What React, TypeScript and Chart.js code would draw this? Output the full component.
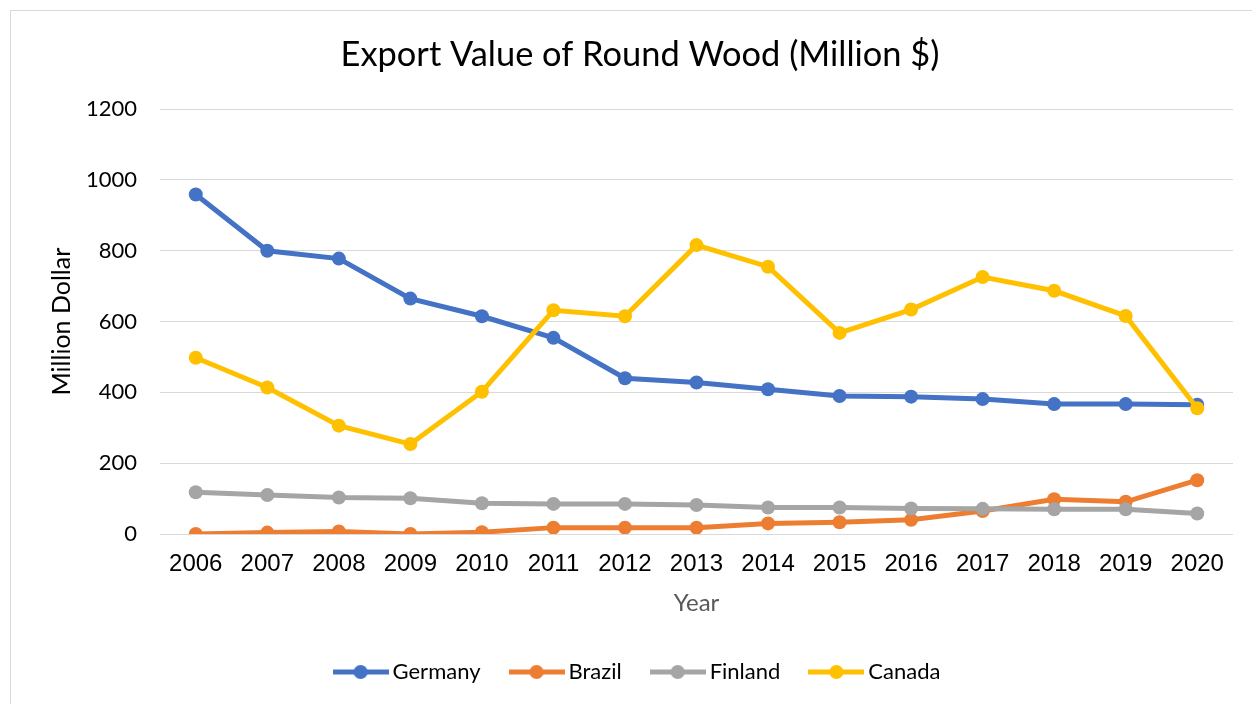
import React, { useEffect, useRef } from "react";
import { Chart, registerables } from "chart.js";

Chart.register(...registerables);

const years = ["2006", "2007", "2008", "2009", "2010", "2011", "2012", "2013", "2014", "2015", "2016", "2017", "2018", "2019", "2020"];
const germany = [959, 800, 778, 665, 615, 554, 440, 428, 409, 390, 388, 381, 367, 367, 365];
const brazil = [0, 4, 7, 0, 5, 18, 18, 18, 30, 33, 40, 65, 98, 91, 152];
const finland = [118, 110, 103, 101, 87, 85, 85, 82, 75, 75, 72, 71, 70, 70, 58];
const canada = [498, 414, 306, 254, 402, 632, 615, 816, 755, 568, 634, 726, 687, 616, 355];

const seriesNames = ["Germany", "Brazil", "Finland", "Canada"];
const seriesColors = ["#4472C4", "#ED7D31", "#A5A5A5", "#FFC000"];
const yTicks = [0, 200, 400, 600, 800, 1000, 1200];

const TITLE = "Export Value of Round Wood (Million $)";
const Y_TITLE = "Million Dollar";
const X_TITLE = "Year";

function makeIcon(color: string): HTMLCanvasElement {
  const c = document.createElement("canvas");
  c.width = 56;
  c.height = 16;
  const ctx = c.getContext("2d")!;
  ctx.strokeStyle = color;
  ctx.lineWidth = 5;
  ctx.beginPath();
  ctx.moveTo(0, 8);
  ctx.lineTo(56, 8);
  ctx.stroke();
  ctx.fillStyle = color;
  ctx.beginPath();
  ctx.arc(28, 8, 7, 0, Math.PI * 2);
  ctx.fill();
  return c;
}

export default function App() {
  const ref = useRef<HTMLCanvasElement | null>(null);

  useEffect(() => {
    if (!ref.current) return;
    const icons = seriesColors.map(makeIcon);
    const values = [germany, brazil, finland, canada];
    const orders = [3, 2, 1, 0];
    const chart = new Chart(ref.current, {
      type: "line",
      data: {
        labels: years,
        datasets: values.map((v, i) => ({
          label: seriesNames[i],
          data: v,
          borderColor: seriesColors[i],
          backgroundColor: seriesColors[i],
          pointBackgroundColor: seriesColors[i],
          pointBorderColor: seriesColors[i],
          pointBorderWidth: 0,
          pointRadius: 7,
          pointHoverRadius: 7,
          borderWidth: 5,
          tension: 0,
          fill: false,
          order: orders[i],
        })),
      },
      options: {
        responsive: false,
        animation: false,
        layout: { padding: { left: 36, right: 19, top: 0, bottom: 11 } },
        plugins: {
          title: {
            display: true,
            text: TITLE,
            color: "#000",
            font: { family: "Lato", size: 34.4, weight: "normal" },
            padding: { top: 23.4, bottom: 33.5 },
          },
          legend: {
            position: "bottom",
            labels: {
              usePointStyle: true,
              pointStyleWidth: 42,
              padding: 35,
              color: "#000",
              font: { family: "Lato", size: 22 },
              sort: (a: any, b: any) => a.datasetIndex - b.datasetIndex,
              generateLabels: (ch: any) => {
                const base = (Chart.defaults.plugins.legend.labels as any).generateLabels(ch);
                return base.map((l: any) => ({
                  ...l,
                  pointStyle: icons[l.datasetIndex],
                  fontColor: "#000",
                }));
              },
            },
          },
          tooltip: { enabled: false },
        },
        scales: {
          x: {
            offset: true,
            grid: { display: false, drawTicks: false },
            border: { display: false },
            ticks: {
              color: "#000",
              padding: 15.6,
              font: { family: "Liberation Sans", size: 24 },
              maxRotation: 0,
              autoSkip: false,
            },
            title: {
              display: true,
              text: X_TITLE,
              color: "#595959",
              font: { family: "Lato", size: 24 },
              padding: { top: 4, bottom: 8.6 },
            },
            afterFit: (s: any) => {
              s.height = 92;
            },
          },
          y: {
            min: 0,
            max: 1200,
            afterBuildTicks: (s: any) => {
              s.ticks = yTicks.map((v) => ({ value: v }));
            },
            grid: { color: "#d9d9d9", lineWidth: 1, drawTicks: false },
            border: { display: false },
            ticks: {
              color: "#000",
              padding: 23,
              font: { family: "Lato", size: 22 },
              callback: (v: any) => String(v),
            },
            title: {
              display: true,
              text: Y_TITLE,
              color: "#000",
              font: { family: "Lato", size: 25 },
              padding: { top: 0, bottom: 4 },
            },
            afterFit: (s: any) => {
              s.width = 113;
            },
          },
        },
      },
    });
    return () => chart.destroy();
  }, []);

  return (
    <div
      style={{
        position: "fixed",
        left: 10,
        top: 10,
        width: 1250,
        height: 700,
        border: "1px solid #d9d9d9",
        boxSizing: "border-box",
        background: "#fff",
      }}
    >
      <canvas
        ref={ref}
        width={1241}
        height={693}
        style={{ position: "absolute", left: 0, top: 0, width: 1241, height: 693 }}
      />
    </div>
  );
}
